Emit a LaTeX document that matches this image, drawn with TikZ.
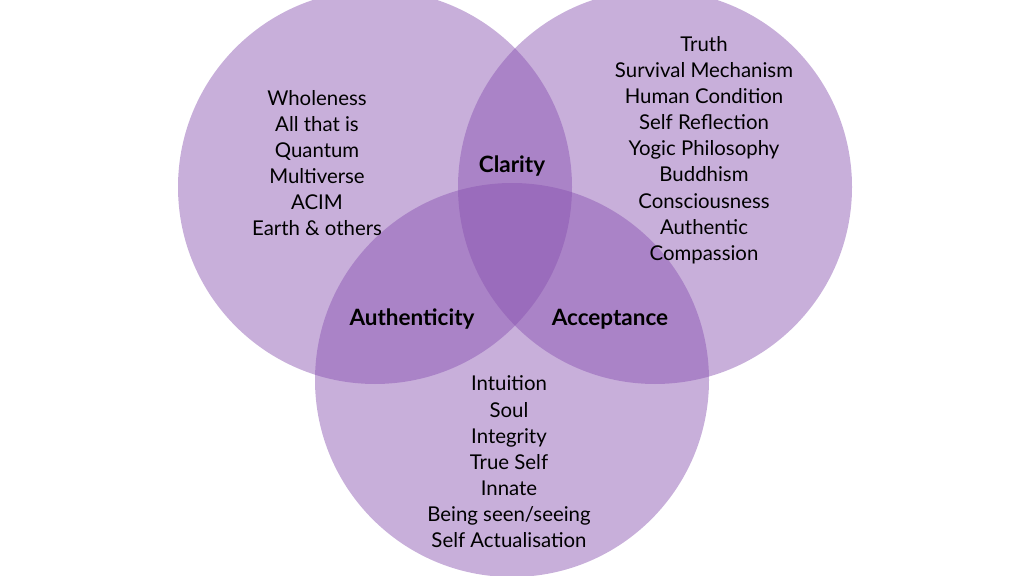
\documentclass[tikz,border=0pt]{standalone}
\usepackage{fontspec}
\setmainfont{Lato}
\usepackage{tikz}
\definecolor{venn}{RGB}{135,80,175}
\begin{document}
\begin{tikzpicture}[x=0.025cm,y=-0.025cm]
    \tikzset{
    set/.style={circle,minimum size=394*0.025cm,fill=venn,fill opacity=0.46,inner sep=0pt},
    lst/.style={align=center,font=\fontsize{14.5}{18.6}\selectfont},
    key/.style={font=\fontsize{16}{19}\selectfont\bfseries},
    }
    \useasboundingbox (0,0) rectangle (1024,576);
    \node[set] (s1) at (375,187) {};
    \node[set] (s2) at (655,187) {};
    \node[set] (s3) at (512,380) {};

    \node[lst] (t1) at (317,163) {Wholeness\\All that is\\Quantum\\Multiverse\\ACIM\\Earth \& others};
    \node[lst] (t2) at (704,150) {Truth\\Survival Mechanism\\Human Condition\\Self Reflection\\Yogic Philosophy\\Buddhism\\Consciousness\\Authentic\\Compassion};
    \node[lst] (t3) at (509,462) {Intuition\\Soul\\Integrity\\True Self\\Innate\\Being seen/seeing\\Self Actualisation};

    \node[key] (k1) at (512,166) {Clarity};
    \node[key] (k2) at (412,319) {Authenticity};
    \node[key] (k3) at (610,319) {Acceptance};
\end{tikzpicture}
\end{document}
